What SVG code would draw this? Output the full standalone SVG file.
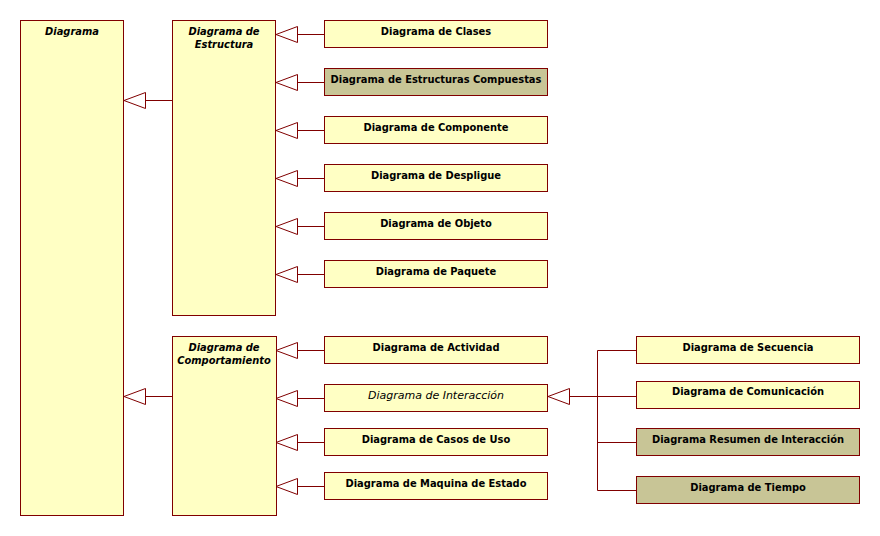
<svg xmlns="http://www.w3.org/2000/svg" width="880" height="536" viewBox="0 0 880 536">
<style>
.bx{fill:#FFFFC4;stroke:#800000;stroke-width:1}
.ol{fill:#C8C596;stroke:#800000;stroke-width:1}
.ln{fill:none;stroke:#800000;stroke-width:1}
.tri{fill:#FFFFFF;stroke:#800000;stroke-width:1}
text{font-family:"DejaVu Sans Condensed","Liberation Sans",sans-serif;font-size:11px;fill:#000;text-anchor:middle}
.b{font-weight:bold}
.ti{font-weight:bold;font-style:italic}
.it{font-family:"DejaVu Sans","Liberation Sans",sans-serif;font-style:italic}
</style>
<rect width="880" height="536" fill="#FFFFFF"/>
<g id="connectors">
<path class="ln" d="M145.5,100.5H172.5 M145.5,396.5H172.5"/>
<path class="tri" d="M124,100.5L145.5,92.5V108.5Z M124,396.5L145.5,388.5V404.5Z"/>
<path class="ln" d="M297.5,34.5H324.5 M297.5,82.5H324.5 M297.5,130.5H324.5 M297.5,178.5H324.5 M297.5,226.5H324.5 M297.5,274.5H324.5"/>
<path class="tri" d="M276,34.5L297.5,26.5V42.5Z M276,82.5L297.5,74.5V90.5Z M276,130.5L297.5,122.5V138.5Z M276,178.5L297.5,170.5V186.5Z M276,226.5L297.5,218.5V234.5Z M276,274.5L297.5,266.5V282.5Z"/>
<path class="ln" d="M297.5,350.5H324.5 M297.5,398.5H324.5 M297.5,442.5H324.5 M297.5,486.5H324.5"/>
<path class="tri" d="M276,350.5L297.5,342.5V358.5Z M276,398.5L297.5,390.5V406.5Z M276,442.5L297.5,434.5V450.5Z M276,486.5L297.5,478.5V494.5Z"/>
<path class="ln" d="M569.5,396.5H636.5 M597.5,350.5V490.5 M597.5,350.5H636.5 M597.5,442.5H636.5 M597.5,490.5H636.5"/>
<path class="tri" d="M548,396.5L569.5,388.5V404.5Z"/>
</g>
<g id="diagrama"><rect class="bx" x="20.5" y="20.5" width="103" height="495"/><text class="ti" x="72" y="35">Diagrama</text></g>
<g id="estructura"><rect class="bx" x="172.5" y="20.5" width="103" height="295"/><text class="ti" x="224" y="35">Diagrama de</text><text class="ti" x="224" y="48">Estructura</text></g>
<g id="comportamiento"><rect class="bx" x="172.5" y="336.5" width="104" height="179"/><text class="ti" x="224" y="351">Diagrama de</text><text class="ti" x="224" y="364">Comportamiento</text></g>
<g id="clases"><rect class="bx" x="324.5" y="20.5" width="223" height="27"/><text class="b" x="436" y="35">Diagrama de Clases</text></g>
<g id="compuestas"><rect class="ol" x="324.5" y="68.5" width="223" height="27"/><text class="b" x="436" y="83">Diagrama de Estructuras Compuestas</text></g>
<g id="componente"><rect class="bx" x="324.5" y="116.5" width="223" height="27"/><text class="b" x="436" y="131">Diagrama de Componente</text></g>
<g id="despligue"><rect class="bx" x="324.5" y="164.5" width="223" height="27"/><text class="b" x="436" y="179">Diagrama de Despligue</text></g>
<g id="objeto"><rect class="bx" x="324.5" y="212.5" width="223" height="27"/><text class="b" x="436" y="227">Diagrama de Objeto</text></g>
<g id="paquete"><rect class="bx" x="324.5" y="260.5" width="223" height="27"/><text class="b" x="436" y="275">Diagrama de Paquete</text></g>
<g id="actividad"><rect class="bx" x="324.5" y="336.5" width="223" height="27"/><text class="b" x="436" y="351">Diagrama de Actividad</text></g>
<g id="interaccion"><rect class="bx" x="324.5" y="384.5" width="223" height="27"/><text class="it" x="436" y="399">Diagrama de Interacción</text></g>
<g id="casos"><rect class="bx" x="324.5" y="428.5" width="223" height="27"/><text class="b" x="436" y="443">Diagrama de Casos de Uso</text></g>
<g id="maquina"><rect class="bx" x="324.5" y="472.5" width="223" height="27"/><text class="b" x="436" y="487">Diagrama de Maquina de Estado</text></g>
<g id="secuencia"><rect class="bx" x="636.5" y="336.5" width="223" height="27"/><text class="b" x="748" y="351">Diagrama de Secuencia</text></g>
<g id="comunicacion"><rect class="bx" x="636.5" y="381.5" width="223" height="27"/><text class="b" x="748" y="395">Diagrama de Comunicación</text></g>
<g id="resumen"><rect class="ol" x="636.5" y="428.5" width="223" height="27"/><text class="b" x="748" y="443">Diagrama Resumen de Interacción</text></g>
<g id="tiempo"><rect class="ol" x="636.5" y="476.5" width="223" height="27"/><text class="b" x="748" y="491">Diagrama de Tiempo</text></g>
</svg>
